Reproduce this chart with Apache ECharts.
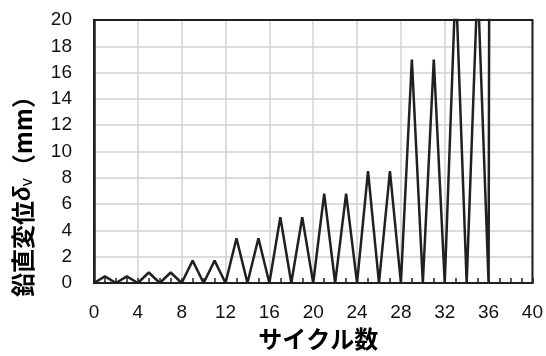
<!DOCTYPE html>
<html>
<head>
<meta charset="utf-8">
<script src="https://cdn.jsdelivr.net/npm/echarts@6/dist/echarts.min.js"></script>
<style>
  html, body { margin: 0; padding: 0; background: #fff; }
  #chart { width: 546px; height: 356px; }
</style>
</head>
<body>
<div id="chart"></div>
<script>
// cycle number and vertical displacement (mm); last point leaves the chart
const cycles = [0, 1, 2, 3, 4, 5, 6, 7, 8, 9, 10, 11, 12, 13, 14, 15, 16, 17, 18,
  19, 20, 21, 22, 23, 24, 25, 26, 27, 28, 29, 30, 31, 32, 33, 34, 35, 36, 37];
const displacement = [0, 0.5, 0, 0.5, 0, 0.8, 0, 0.8, 0, 1.7, 0, 1.7, 0, 3.4, 0, 3.4,
  0, 5.0, 0, 5.0, 0, 6.8, 0, 6.8, 0, 8.5, 0, 8.5, 0, 17.0, 0, 17.0, 0, 23, 0, 23, 0, 400];

const dark = '#231f20';
const numFont = '"Liberation Sans", "Noto Sans", sans-serif';
const jpFont = '"Noto Sans CJK JP", sans-serif';

const chart = echarts.init(document.getElementById('chart'));
const option = {
  animation: false,
  grid: {
    left: 94,
    right: 13,
    top: 20,
    bottom: 73,
    show: true,
    z: 3,
    borderColor: dark,
    borderWidth: 2
  },
  xAxis: {
    type: 'value',
    min: 0,
    max: 40,
    interval: 4,
    name: 'サイクル数',
    nameLocation: 'middle',
    nameGap: 44,
    nameTextStyle: {
      fontFamily: jpFont,
      fontWeight: 'bold',
      fontSize: 24,
      color: '#000',
      padding: [0, 0, 0, 10]
    },
    axisLine: { show: true, lineStyle: { color: dark, width: 2 } },
    axisTick: { show: true, inside: true, length: 5, lineStyle: { color: dark, width: 1.5 } },
    minorTick: { show: true, splitNumber: 4, length: 5, lineStyle: { color: dark, width: 1.5 } },
    axisLabel: { fontFamily: numFont, fontSize: 19, color: '#111', margin: 20 },
    splitLine: { show: true, lineStyle: { color: '#d0d0d0', width: 1.5 } }
  },
  yAxis: {
    type: 'value',
    min: 0,
    max: 20,
    interval: 2,
    name: '{b|鉛直変位}{d|δ}{s|v}{b|（mm）}',
    nameLocation: 'middle',
    nameRotate: 90,
    nameGap: 58,
    nameTextStyle: {
      color: '#000',
      padding: [0, 78, 0, 0],
      rich: {
        b: { fontFamily: jpFont, fontWeight: 'bold', fontSize: 24, color: '#000' },
        d: { fontFamily: numFont, fontWeight: 'bold', fontStyle: 'italic', fontSize: 24, color: '#000' },
        s: { fontFamily: numFont, fontSize: 16, color: '#000', padding: [10, 0, 0, 0] }
      }
    },
    axisLine: { show: true, lineStyle: { color: dark, width: 2.5 } },
    axisTick: { show: false },
    axisLabel: { fontFamily: numFont, fontSize: 19, color: '#111', margin: 22 },
    splitLine: { show: true, lineStyle: { color: '#d0d0d0', width: 1.5 } }
  },
  series: [{
    type: 'line',
    data: cycles.map((c, i) => [c, displacement[i]]),
    showSymbol: false,
    clip: true,
    lineStyle: { color: dark, width: 2.5 }
  }]
};
chart.setOption(option);
</script>
</body>
</html>
